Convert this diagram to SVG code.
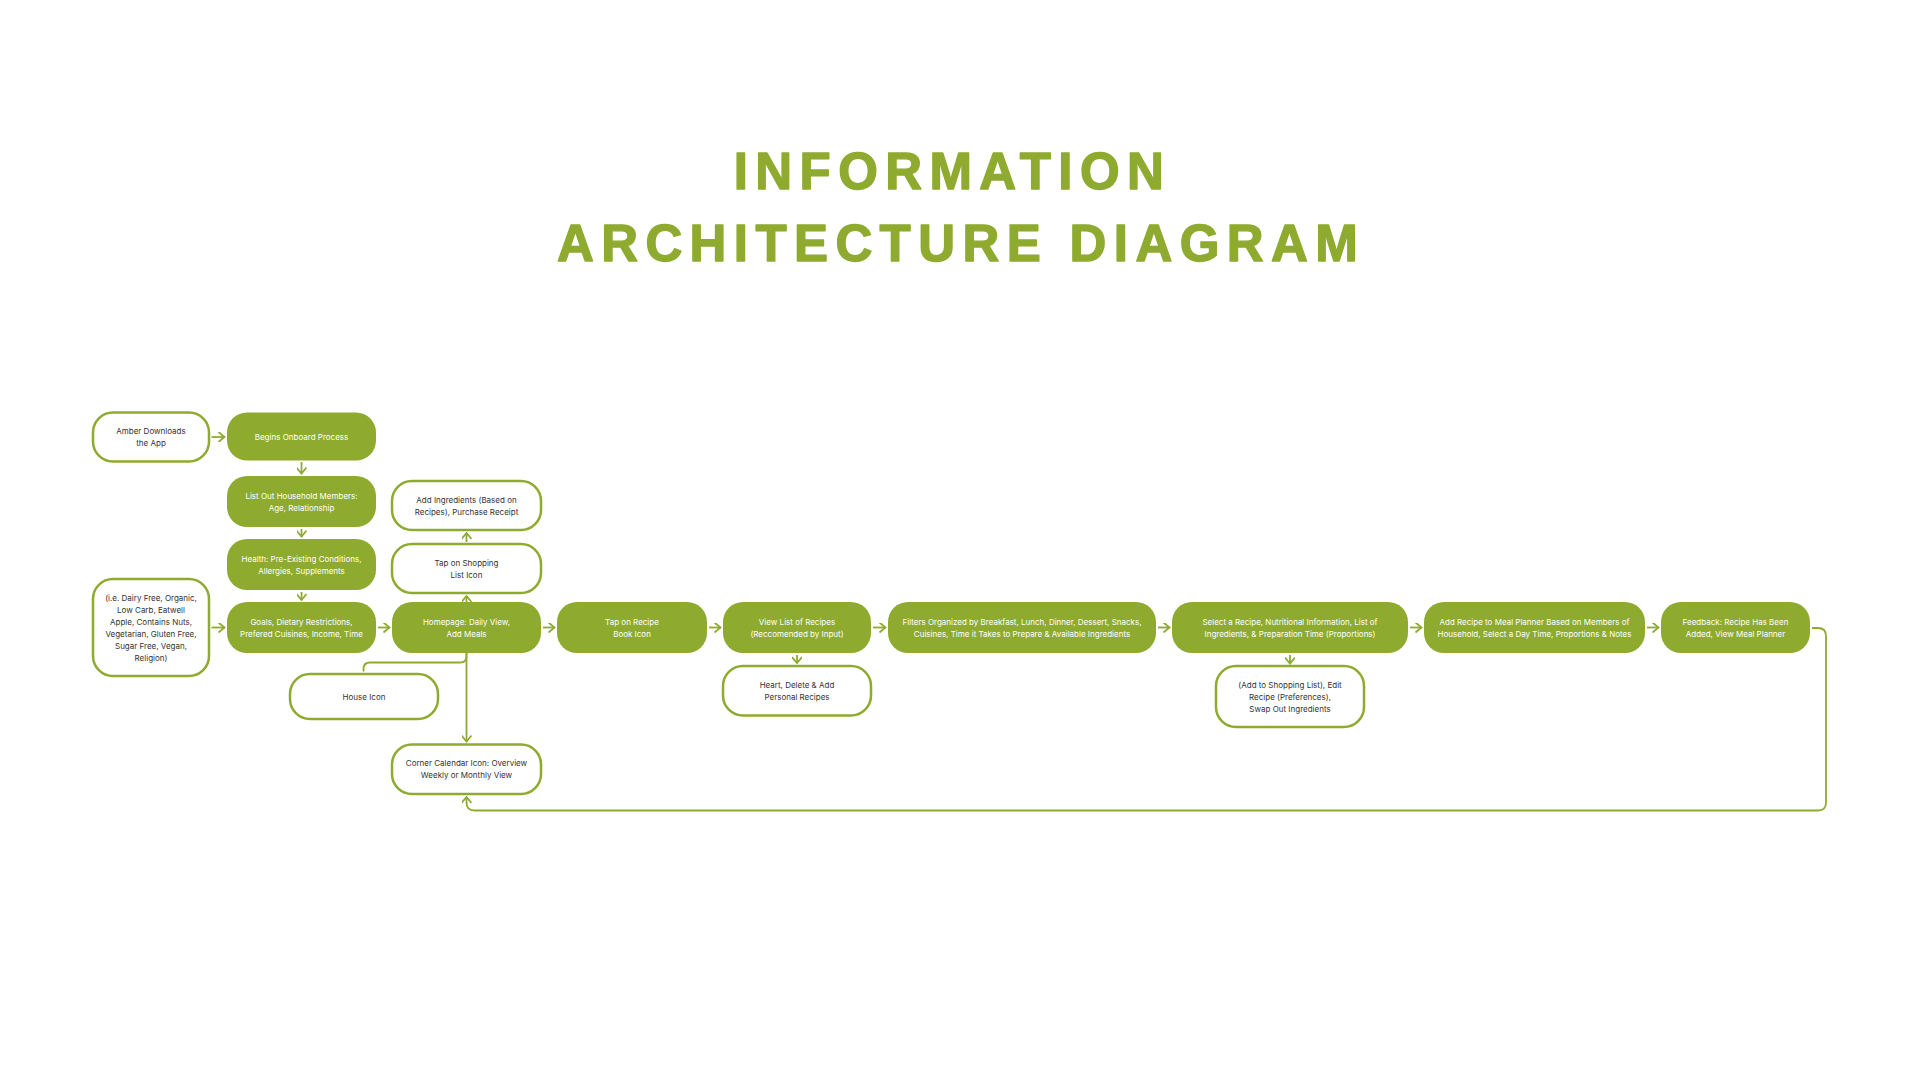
<svg xmlns="http://www.w3.org/2000/svg" width="1920" height="1080" viewBox="0 0 1920 1080">
<style>
.title{font-family:"Liberation Sans",Arial,sans-serif;font-weight:bold;font-size:51px;letter-spacing:7.4px;fill:#8EAB30;stroke:#8EAB30;stroke-width:1.4;stroke-linejoin:round;text-anchor:middle}
.fill{fill:#8EAB30;stroke:none}
.out{fill:#ffffff;stroke:#8EAB30;stroke-width:2.5}
.t{font-family:Inter,"Noto Sans",sans-serif;font-size:8px;text-anchor:middle;dominant-baseline:central}
.tw{fill:#ffffff}
.td{fill:#333333}
.c{fill:none;stroke:#8EAB30;stroke-width:1.8}
.a{marker-end:url(#arr)}
</style>
<defs>
<marker id="arr" viewBox="0 0 10 10" refX="9" refY="5" markerWidth="10" markerHeight="10" markerUnits="userSpaceOnUse" orient="auto">
<path d="M3,0 L9,5 L3,10" fill="none" stroke="#8EAB30" stroke-width="1.8"/>
</marker>
</defs>
<rect width="1920" height="1080" fill="#ffffff"/>
<text class="title" x="952.5" y="189">INFORMATION</text>
<text class="title" x="961" y="261">ARCHITECTURE DIAGRAM</text>

<g id="connectors">
<path class="c a" d="M211.5,437 H224.5"/>
<path class="c a" d="M211.5,627.5 H224.5"/>
<path class="c a" d="M378,627.5 H389.5"/>
<path class="c a" d="M543,627.5 H554.5"/>
<path class="c a" d="M709,627.5 H720.5"/>
<path class="c a" d="M873,627.5 H885.5"/>
<path class="c a" d="M1158,627.5 H1169.5"/>
<path class="c a" d="M1410,627.5 H1421.5"/>
<path class="c a" d="M1647,627.5 H1658.5"/>
<path class="c a" d="M301.5,462 V473.5"/>
<path class="c a" d="M301.5,529 V536.5"/>
<path class="c a" d="M301.5,592 V600"/>
<path class="c a" d="M797,655 V663"/>
<path class="c a" d="M1290,655 V663.5"/>
<path class="c a" d="M466.5,653 V741.5"/>
<path class="c a" d="M466.5,602 V596"/>
<path class="c a" d="M466.5,542 V533"/>
<path class="c" d="M466.5,653 V656 Q466.5,662.5 460,662.5 H370 Q363.5,662.5 363.5,669 V671.5"/>
<path class="c a" d="M1812,628 H1818 Q1826,628 1826,636 V802.5 Q1826,810.5 1818,810.5 H474.5 Q466.5,810.5 466.5,802.5 V797"/>
</g>

<g id="amber"><rect class="out" x="93" y="412.5" width="116" height="49" rx="20"/><text class="t td" x="151" y="431">Amber Downloads</text><text class="t td" x="151" y="443">the App</text></g>
<g id="begins"><rect class="fill" x="227" y="412.5" width="149" height="48" rx="20"/><text class="t tw" x="301.5" y="436.5">Begins Onboard Process</text></g>
<g id="household"><rect class="fill" x="227" y="476" width="149" height="51" rx="20"/><text class="t tw" x="301.5" y="495.5">List Out Household Members:</text><text class="t tw" x="301.5" y="507.5">Age, Relationship</text></g>
<g id="health"><rect class="fill" x="227" y="539" width="149" height="51" rx="20"/><text class="t tw" x="301.5" y="558.5">Health: Pre-Existing Conditions,</text><text class="t tw" x="301.5" y="570.5">Allergies, Supplements</text></g>
<g id="goals"><rect class="fill" x="227" y="602" width="149" height="51" rx="20"/><text class="t tw" x="301.5" y="621.5">Goals, Dietary Restrictions,</text><text class="t tw" x="301.5" y="633.5">Prefered Cuisines, Income, Time</text></g>
<g id="dietary"><rect class="out" x="93" y="579" width="116" height="97" rx="20"/>
<text class="t td" x="151" y="598">(i.e. Dairy Free, Organic,</text>
<text class="t td" x="151" y="610">Low Carb, Eatwell</text>
<text class="t td" x="151" y="622">Apple, Contains Nuts,</text>
<text class="t td" x="151" y="634">Vegetarian, Gluten Free,</text>
<text class="t td" x="151" y="646">Sugar Free, Vegan,</text>
<text class="t td" x="151" y="657.5">Religion)</text></g>
<g id="addIngredients"><rect class="out" x="392" y="481" width="149" height="49" rx="20"/><text class="t td" x="466.5" y="499.5">Add Ingredients (Based on</text><text class="t td" x="466.5" y="511.5">Recipes), Purchase Receipt</text></g>
<g id="tapShopping"><rect class="out" x="392" y="544" width="149" height="49" rx="20"/><text class="t td" x="466.5" y="562.5">Tap on Shopping</text><text class="t td" x="466.5" y="574.5">List Icon</text></g>
<g id="homepage"><rect class="fill" x="392" y="602" width="149" height="51" rx="20"/><text class="t tw" x="466.5" y="621.5">Homepage: Daily View,</text><text class="t tw" x="466.5" y="633.5">Add Meals</text></g>
<g id="house"><rect class="out" x="290" y="674" width="148" height="45" rx="20"/><text class="t td" x="364" y="696.5">House Icon</text></g>
<g id="calendar"><rect class="out" x="392" y="744.5" width="149" height="49.5" rx="20"/><text class="t td" x="466.5" y="763">Corner Calendar Icon: Overview</text><text class="t td" x="466.5" y="775">Weekly or Monthly View</text></g>
<g id="tapRecipe"><rect class="fill" x="557" y="602" width="150" height="51" rx="20"/><text class="t tw" x="632" y="621.5">Tap on Recipe</text><text class="t tw" x="632" y="633.5">Book Icon</text></g>
<g id="viewList"><rect class="fill" x="723" y="602" width="148" height="51" rx="20"/><text class="t tw" x="797" y="621.5">View List of Recipes</text><text class="t tw" x="797" y="633.5">(Reccomended by Input)</text></g>
<g id="heart"><rect class="out" x="723" y="666" width="148" height="49.5" rx="20"/><text class="t td" x="797" y="684.5">Heart, Delete &amp; Add</text><text class="t td" x="797" y="696.5">Personal Recipes</text></g>
<g id="filters"><rect class="fill" x="888" y="602" width="268" height="51" rx="20"/><text class="t tw" x="1022" y="621.5">Filters Organized by Breakfast, Lunch, Dinner, Dessert, Snacks,</text><text class="t tw" x="1022" y="633.5">Cuisines, Time it Takes to Prepare &amp; Available Ingredients</text></g>
<g id="selectRecipe"><rect class="fill" x="1172" y="602" width="236" height="51" rx="20"/><text class="t tw" x="1290" y="621.5">Select a Recipe, Nutritional Information, List of</text><text class="t tw" x="1290" y="633.5">Ingredients, &amp; Preparation Time (Proportions)</text></g>
<g id="addShoppingList"><rect class="out" x="1216" y="666" width="148" height="61" rx="20"/><text class="t td" x="1290" y="684.5">(Add to Shopping List), Edit</text><text class="t td" x="1290" y="696.5">Recipe (Preferences),</text><text class="t td" x="1290" y="709">Swap Out Ingredients</text></g>
<g id="addMealPlanner"><rect class="fill" x="1424" y="602" width="221" height="51" rx="20"/><text class="t tw" x="1534.5" y="621.5">Add Recipe to Meal Planner Based on Members of</text><text class="t tw" x="1534.5" y="633.5">Household, Select a Day Time, Proportions &amp; Notes</text></g>
<g id="feedback"><rect class="fill" x="1661" y="602" width="149" height="51" rx="20"/><text class="t tw" x="1735.5" y="621.5">Feedback: Recipe Has Been</text><text class="t tw" x="1735.5" y="633.5">Added, View Meal Planner</text></g>
</svg>
